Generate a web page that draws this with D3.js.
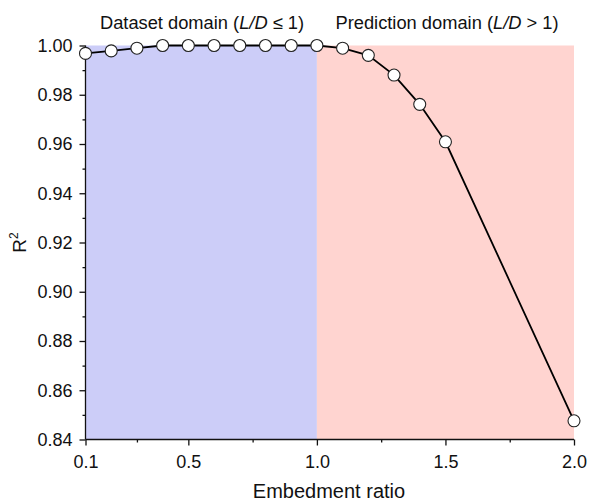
<!DOCTYPE html>
<html><head><meta charset="utf-8">
<script src="https://cdn.jsdelivr.net/npm/d3@7"></script>
<style>body{margin:0;background:#fff}svg{display:block}text{font-family:"Liberation Sans",Arial,sans-serif;fill:#111}</style>
</head><body>
<svg id="c" width="589" height="504"></svg>
<script>
const ratios = [0.1,0.2,0.3,0.4,0.5,0.6,0.7,0.8,0.9,1.0,1.1,1.2,1.3,1.4,1.5,2.0];
const r2 = [0.9968,0.9978,0.9989,1.0,1.0,1.0,1.0,1.0,1.0,1.0,0.9989,0.996,0.988,0.9761,0.9609,0.8476];
const xTicks = [0.1,0.5,1.0,1.5,2.0];
const xMinor = [0.3,0.75,1.25,1.75];
const yTicks = [0.84,0.86,0.88,0.90,0.92,0.94,0.96,0.98,1.00];
const yMinor = [0.85,0.87,0.89,0.91,0.93,0.95,0.97,0.99];
const domains = [{from:0.1,to:1.0,color:"#cccdf8"},{from:1.0,to:2.0,color:"#ffd4d0"}];

const svg = d3.select("#c");
const L=85.5,R=574,T=45.5,B=439.5;
const x = d3.scaleLinear().domain([0.1,2.0]).range([L,R]);
const y = d3.scaleLinear().domain([0.84,1.0]).range([B,T]);

svg.selectAll("rect.dom").data(domains).join("rect").attr("class","dom")
  .attr("x",d=>x(d.from)).attr("width",d=>x(d.to)-x(d.from))
  .attr("y",T).attr("height",B-T).attr("fill",d=>d.color);

// axes
const xa = svg.append("g").attr("transform",`translate(0,${B})`)
  .call(d3.axisBottom(x).tickValues(xTicks).tickFormat(d3.format(".1f")).tickSize(6).tickPadding(10));
svg.append("g").attr("transform",`translate(0,${B})`)
  .call(d3.axisBottom(x).tickValues(xMinor).tickFormat("").tickSize(3))
  .call(g=>g.select(".domain").remove());
const ya = svg.append("g").attr("transform",`translate(${L},0)`)
  .call(d3.axisLeft(y).tickValues(yTicks).tickFormat(d3.format(".2f")).tickSize(6).tickPadding(7));
svg.append("g").attr("transform",`translate(${L},0)`)
  .call(d3.axisLeft(y).tickValues(yMinor).tickFormat("").tickSize(3))
  .call(g=>g.select(".domain").remove());
svg.selectAll(".domain").attr("stroke","#111").attr("stroke-width",1.3);
svg.selectAll(".tick line").attr("stroke","#111").attr("stroke-width",1.3);
svg.selectAll(".tick text").attr("font-size",18).attr("font-family","Liberation Sans, Arial, sans-serif").attr("fill","#111");
xa.select(".domain").attr("d",`M${L},0H${R}`);
ya.select(".domain").attr("d",`M0,${B}V${T}`);

// line
svg.append("path").datum(ratios.map((v,i)=>[v,r2[i]]))
  .attr("fill","none").attr("stroke","#000").attr("stroke-width",1.8)
  .attr("d",d3.line().x(d=>x(d[0])).y(d=>y(d[1])));
svg.selectAll("circle.pt").data(ratios.map((v,i)=>[v,r2[i]])).join("circle").attr("class","pt")
  .attr("cx",d=>x(d[0])).attr("cy",d=>y(d[1])).attr("r",6)
  .attr("fill","#fff").attr("stroke","#222").attr("stroke-width",1.1);

// titles
svg.append("text").attr("x",329).attr("y",498).attr("text-anchor","middle").attr("font-size",20).text("Embedment ratio");
const yl = svg.append("text").attr("transform",`translate(26,${(T+B)/2}) rotate(-90)`).attr("text-anchor","middle").attr("font-size",19);
yl.append("tspan").text("R");
yl.append("tspan").attr("font-size",12).attr("dy",-8).text("2");

const t1 = svg.append("text").attr("x",202).attr("y",29).attr("text-anchor","middle").attr("font-size",18.3);
t1.append("tspan").text("Dataset domain (");
t1.append("tspan").attr("font-style","italic").text("L/D");
t1.append("tspan").text(" \u2264 1)");
const t2 = svg.append("text").attr("x",447).attr("y",29).attr("text-anchor","middle").attr("font-size",18.3);
t2.append("tspan").text("Prediction domain (");
t2.append("tspan").attr("font-style","italic").text("L/D");
t2.append("tspan").text(" > 1)");
</script>
</body></html>
